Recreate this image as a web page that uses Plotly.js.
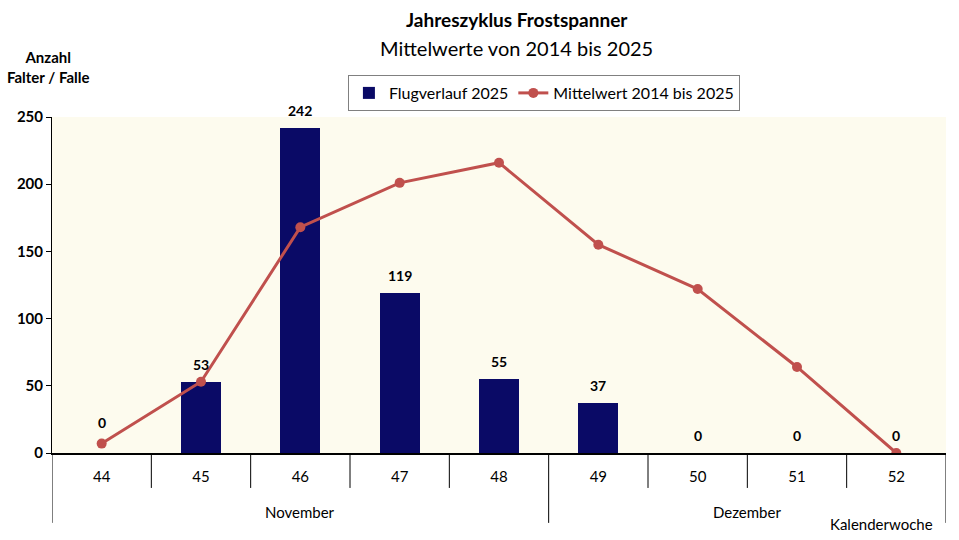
<!DOCTYPE html>
<html><head><meta charset="utf-8">
<script src="https://cdn.plot.ly/plotly-3.0.1.min.js"></script>
<style>html,body{margin:0;padding:0;background:#fff}#chart{width:959px;height:540px}</style>
</head><body><div id="chart"></div>
<script>
const weeks = [44, 45, 46, 47, 48, 49, 50, 51, 52];
const flug2025 = [0, 53, 242, 119, 55, 37, 0, 0, 0];
const mittelwert = [7, 53, 168, 201, 216, 155, 122, 64, 0];
const months = ["November", "Dezember"];
const monthCenters = [46, 50.5];
const monthBounds = [43.5, 48.5, 52.5];
const yTicks = [0, 50, 100, 150, 200, 250];

const FONT = "Lato, 'Open Sans', sans-serif";

const traces = [
  {type: 'bar', x: weeks, y: flug2025, name: 'Flugverlauf 2025',
   marker: {color: '#0A0A66'}, width: 0.4, hoverinfo: 'x+y'},
  {type: 'scatter', mode: 'lines+markers', x: weeks, y: mittelwert, name: 'Mittelwert 2014 bis 2025',
   line: {color: '#C0504D', width: 3}, marker: {color: '#C0504D', size: 10}}
];

const shapes = [];
for (let i = 0; i < weeks.length - 1; i++) {
  const b = weeks[i] + 0.5;
  if (monthBounds.indexOf(b) >= 0) continue;
  shapes.push({type: 'line', xref: 'x', yref: 'paper', x0: b, x1: b, y0: 0, y1: -0.104,
    line: {color: '#000', width: 1}});
}
monthBounds.forEach(b => shapes.push({type: 'line', xref: 'x', yref: 'paper', x0: b, x1: b, y0: 0, y1: -0.208,
  line: {color: '#000', width: 1}}));

const annotations = [];
flug2025.forEach((v, i) => annotations.push({x: weeks[i], y: v, xref: 'x', yref: 'y', text: String(v),
  showarrow: false, yanchor: 'bottom', yshift: i === 0 ? 20 : 7,
  font: {family: FONT, size: 14, color: '#000', weight: 'bold'}}));
months.forEach((m, i) => annotations.push({x: monthCenters[i], y: -0.176, xref: 'x', yref: 'paper', text: m,
  showarrow: false, yanchor: 'middle', font: {family: FONT, size: 15, color: '#000'}}));
annotations.push({x: 0.988, y: -0.211, xref: 'paper', yref: 'paper', text: 'Kalenderwoche', showarrow: false,
  xanchor: 'right', yanchor: 'middle', font: {family: FONT, size: 15, color: '#000'}});
annotations.push({text: '<b>Jahreszyklus Frostspanner</b>', xref: 'paper', yref: 'paper', x: 0.52, y: 1.289,
  yanchor: 'middle', showarrow: false, font: {family: FONT, size: 19, color: '#000'}});
annotations.push({text: 'Mittelwerte von 2014 bis 2025', xref: 'paper', yref: 'paper', x: 0.52, y: 1.205,
  yanchor: 'middle', showarrow: false, font: {family: FONT, size: 20, color: '#000'}});
annotations.push({text: '<b>Anzahl</b><br><b>Falter / Falle</b>', xref: 'paper', yref: 'paper', x: -0.004, y: 1.148,
  xanchor: 'center', yanchor: 'middle', showarrow: false, align: 'center',
  font: {family: FONT, size: 15, color: '#000'}});

const layout = {
  width: 959, height: 540,
  margin: {l: 52, r: 13, t: 117, b: 87},
  paper_bgcolor: '#ffffff', plot_bgcolor: '#FDFBEE',
  font: {family: FONT, color: '#000'},
  showlegend: true,
  legend: {orientation: 'h', x: 0.331, y: 1.125, xanchor: 'left', yanchor: 'top',
    bordercolor: '#808080', borderwidth: 1, bgcolor: '#fff', font: {family: FONT, size: 16, color: '#000'},
    traceorder: 'normal', itemwidth: 30},
  xaxis: {range: [43.5, 52.5], tickvals: weeks, ticktext: weeks.map(String), showgrid: false, zeroline: false,
    showline: true, linecolor: '#000', linewidth: 1.5, ticks: '', tickfont: {family: FONT, size: 15, color: '#000'},
    ticklabelstandoff: 9},
  yaxis: {range: [0, 250], tickvals: yTicks, showgrid: false, zeroline: false, showline: true, linecolor: '#000',
    linewidth: 1, ticks: 'outside', ticklen: 5, tickcolor: '#000',
    tickfont: {family: FONT, size: 15, color: '#000', weight: 'bold'}},
  shapes: shapes, annotations: annotations, bargap: 0
};
Plotly.newPlot('chart', traces, layout, {displayModeBar: false, staticPlot: true});
</script></body></html>
